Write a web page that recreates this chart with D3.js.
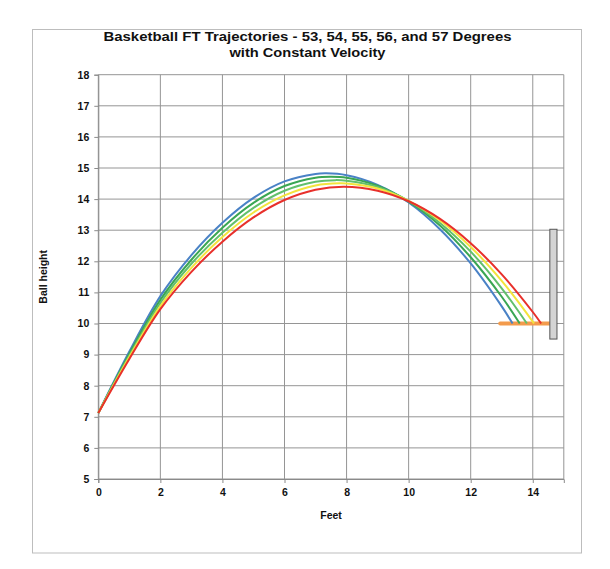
<!DOCTYPE html>
<html>
<head>
<meta charset="utf-8">
<script src="https://cdn.jsdelivr.net/npm/d3@7"></script>
<style>
  html, body { margin: 0; padding: 0; background: #fff; }
  svg { display: block; }
  text { font-family: "Liberation Sans", Arial, sans-serif; font-weight: bold; fill: #111; }
</style>
</head>
<body>
<script>
// ---- Data ----
const title1 = "Basketball FT Trajectories - 53, 54, 55, 56, and 57 Degrees";
const title2 = "with Constant Velocity";
const xLabel = "Feet";
const yLabel = "Ball height";
const xTicks = [0, 2, 4, 6, 8, 10, 12, 14];
const yTicks = [5, 6, 7, 8, 9, 10, 11, 12, 13, 14, 15, 16, 17, 18];
const angles = [57, 56, 55, 54, 53];

const blueX   = [0, 1, 2, 3, 4, 5, 6, 7, 7.35, 8, 9, 10, 11, 12, 13, 13.35];
const blueY   = [7.12, 9.1, 10.88, 12.2, 13.24, 14.04, 14.57, 14.81, 14.83, 14.77, 14.46, 13.89, 13.04, 11.93, 10.55, 10.0];
const green1X = [0, 1, 2, 3, 4, 5, 6, 7, 7.5, 8, 9, 10, 11, 12, 13, 13.58];
const green1Y = [7.12, 9.03, 10.76, 12.05, 13.08, 13.88, 14.42, 14.69, 14.72, 14.69, 14.43, 13.92, 13.16, 12.13, 10.86, 10.0];
const green2X = [0, 1, 2, 3, 4, 5, 6, 7, 7.64, 8, 9, 10, 11, 12, 13, 13.81];
const green2Y = [7.12, 8.97, 10.66, 11.92, 12.92, 13.72, 14.27, 14.56, 14.61, 14.59, 14.39, 13.94, 13.24, 12.31, 11.13, 10.0];
const yellowX = [0, 1, 2, 3, 4, 5, 6, 7, 7.78, 8, 9, 10, 11, 12, 13, 14, 14.04];
const yellowY = [7.12, 8.92, 10.56, 11.79, 12.78, 13.57, 14.12, 14.44, 14.51, 14.50, 14.34, 13.94, 13.32, 12.46, 11.37, 10.06, 10.0];
const redX    = [0, 1, 2, 3, 4, 5, 6, 7, 7.92, 9, 10, 11, 12, 13, 14, 14.27];
const redY    = [7.12, 8.86, 10.46, 11.66, 12.63, 13.41, 13.97, 14.30, 14.40, 14.27, 13.93, 13.37, 12.58, 11.58, 10.37, 10.0];

const rimX = [12.95, 14.55];   // orange rim line at height 10
const rimY = 10;
const boardX = [14.55, 14.78]; // backboard
const boardY = [9.5, 13.03];

const seriesColors = ["#4a82c6", "#3aa653", "#62c06c", "#f3e43c", "#e8302b"];

// ---- Layout ----
const W = 610, H = 569;
const m = { left: 98.3, right: 563.8, top: 74.7, bottom: 479 };

const svg = d3.select("body").append("svg").attr("width", W).attr("height", H);

svg.append("rect").attr("x", 32.5).attr("y", 29.5).attr("width", 549).attr("height", 523.5)
  .attr("fill", "#fff").attr("stroke", "#bdbdbd").attr("stroke-width", 1);

const x = d3.scaleLinear().domain([0, 15]).range([m.left, m.right]);
const y = d3.scaleLinear().domain([5, 18]).range([m.bottom, m.top]);

// grid
const g = svg.append("g");
g.selectAll("line.v").data(xTicks.concat([15])).join("line")
  .attr("x1", d => x(d)).attr("x2", d => x(d)).attr("y1", y(5)).attr("y2", y(18))
  .attr("stroke", "#959595").attr("stroke-width", 1);
g.selectAll("line.h").data(yTicks).join("line")
  .attr("x1", x(0)).attr("x2", x(15)).attr("y1", d => y(d)).attr("y2", d => y(d))
  .attr("stroke", "#959595").attr("stroke-width", 1);

// axes
const xAxis = d3.axisBottom(x).tickValues(xTicks).tickSize(4).tickPadding(6).tickFormat(d3.format("d"));
const yAxis = d3.axisLeft(y).tickValues(yTicks).tickSize(4).tickPadding(5).tickFormat(d3.format("d"));
const gx = svg.append("g").attr("transform", `translate(0,${m.bottom})`).call(xAxis);
const gy = svg.append("g").attr("transform", `translate(${m.left},0)`).call(yAxis);
[gx, gy].forEach(a => {
  a.select(".domain").attr("stroke", "#8a8a8a");
  a.selectAll(".tick line").attr("stroke", "#8a8a8a");
  a.selectAll(".tick text").style("font-family", '"Liberation Sans", Arial, sans-serif')
    .style("font-weight", "bold").style("font-size", "10.5px").attr("fill", "#111");
});

// rim line
svg.append("line")
  .attr("x1", x(rimX[0])).attr("x2", x(rimX[1])).attr("y1", y(rimY)).attr("y2", y(rimY))
  .attr("stroke", "#f39b4c").attr("stroke-width", 4).attr("stroke-linecap", "round");

// trajectories
const seriesX = [blueX, green1X, green2X, yellowX, redX];
const seriesY = [blueY, green1Y, green2Y, yellowY, redY];
const line = d3.line().x(d => x(d[0])).y(d => y(d[1])).curve(d3.curveCatmullRom.alpha(0.5));
seriesX.forEach((xs, i) => {
  const pts = xs.map((v, j) => [v, seriesY[i][j]]);
  svg.append("path").datum(pts).attr("d", line)
    .attr("fill", "none").attr("stroke", seriesColors[i]).attr("stroke-width", 2)
    .attr("data-angle", angles[i]);
});

// backboard
svg.append("rect")
  .attr("x", x(boardX[0])).attr("y", y(boardY[1]))
  .attr("width", x(boardX[1]) - x(boardX[0])).attr("height", y(boardY[0]) - y(boardY[1]))
  .attr("fill", "#d4d4d4").attr("stroke", "#555").attr("stroke-width", 1);

// titles
svg.append("text").attr("x", 307.5).attr("y", 40.5).attr("text-anchor", "middle")
  .attr("textLength", 408).attr("lengthAdjust", "spacingAndGlyphs")
  .style("font-size", "13px").text(title1);
svg.append("text").attr("x", 307.5).attr("y", 57).attr("text-anchor", "middle")
  .attr("textLength", 156).attr("lengthAdjust", "spacingAndGlyphs")
  .style("font-size", "13px").text(title2);
svg.append("text").attr("x", (m.left + m.right) / 2).attr("y", 518.5).attr("text-anchor", "middle")
  .style("font-size", "10.5px").text(xLabel);
svg.append("text").attr("transform", `translate(47,${(m.top + m.bottom) / 2}) rotate(-90)`)
  .attr("text-anchor", "middle").style("font-size", "10.5px").text(yLabel);
</script>
</body>
</html>
